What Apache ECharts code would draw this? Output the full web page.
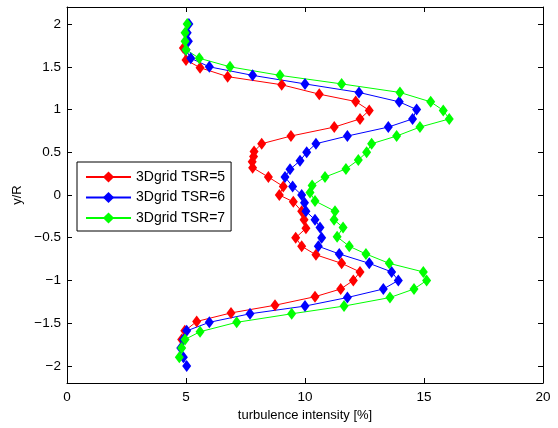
<!DOCTYPE html>
<html>
<head>
<meta charset="utf-8">
<script src="https://cdn.jsdelivr.net/npm/echarts@6/dist/echarts.min.js"></script>
<style>
html,body{margin:0;padding:0;background:#fff;}
#chart{width:558px;height:428px;}
</style>
</head>
<body>
<div id="chart"></div>
<script>
// ---- data ----
var seriesNames = ['3Dgrid TSR=5', '3Dgrid TSR=6', '3Dgrid TSR=7'];

var yTSR5 = [1.72, 1.58, 1.49, 1.385, 1.29, 1.18, 1.094, 0.99, 0.89, 0.795, 0.69, 0.60, 0.51, 0.45, 0.39, 0.32, 0.21, 0.10, 0.0, -0.08, -0.19, -0.29, -0.39, -0.50, -0.60, -0.70, -0.80, -0.90, -1.0, -1.10, -1.19, -1.29, -1.38, -1.48, -1.59, -1.69];
var xTSR5 = [4.89, 5.0, 5.59, 6.75, 9.02, 10.6, 12.13, 12.7, 12.31, 11.23, 9.41, 8.18, 7.86, 7.84, 7.78, 7.8, 8.46, 9.09, 8.92, 9.51, 9.86, 9.96, 10.04, 9.61, 9.86, 10.46, 11.54, 12.31, 12.03, 11.5, 10.42, 8.74, 6.89, 5.45, 4.95, 4.82];

var yTSR6 = [2.0, 1.9, 1.8, 1.7, 1.6, 1.5, 1.4, 1.3, 1.2, 1.09, 1.0, 0.89, 0.795, 0.69, 0.6, 0.5, 0.4, 0.3, 0.21, 0.1, 0.0, -0.09, -0.19, -0.29, -0.38, -0.5, -0.6, -0.69, -0.8, -0.9, -1.0, -1.1, -1.2, -1.3, -1.39, -1.49, -1.59, -1.69, -1.79, -1.9, -2.0];
var xTSR6 = [5.12, 5.05, 5.1, 5.0, 5.2, 5.98, 7.8, 10.0, 12.27, 13.96, 14.69, 14.52, 13.5, 11.78, 10.46, 10.07, 9.79, 9.37, 9.16, 9.48, 9.86, 9.98, 10.04, 10.42, 10.63, 10.7, 10.56, 11.44, 12.7, 13.64, 13.92, 13.29, 11.78, 10.0, 7.69, 5.98, 5.03, 4.89, 4.78, 4.89, 5.03];

var yTSR7 = [2.0, 1.9, 1.8, 1.7, 1.6, 1.5, 1.4, 1.3, 1.2, 1.09, 0.99, 0.89, 0.795, 0.69, 0.6, 0.5, 0.41, 0.305, 0.21, 0.11, 0.03, -0.07, -0.19, -0.29, -0.38, -0.49, -0.6, -0.69, -0.8, -0.9, -1.0, -1.1, -1.2, -1.3, -1.39, -1.49, -1.6, -1.69, -1.79, -1.9];
var xTSR7 = [5.05, 4.96, 4.96, 5.0, 5.56, 6.85, 8.95, 11.54, 13.99, 15.28, 15.81, 16.06, 14.83, 13.85, 12.8, 12.59, 12.24, 11.72, 10.84, 10.3, 10.21, 10.42, 11.26, 11.22, 11.6, 11.35, 11.86, 12.56, 13.54, 14.97, 15.11, 14.58, 13.57, 11.64, 9.44, 7.13, 5.59, 4.96, 4.82, 4.72];

var xTicks = [0, 5, 10, 15, 20];
var yTicks = [-2, -1.5, -1, -0.5, 0, 0.5, 1, 1.5, 2];
var colors = ['#ff0000', '#0000ff', '#00ff00'];

// ---- build ----
function zip(xs, ys) { return xs.map(function (x, i) { return [x, ys[i]]; }); }
var xsAll = [xTSR5, xTSR6, xTSR7];
var ysAll = [yTSR5, yTSR6, yTSR7];

var font = '"Liberation Sans", Arial, Helvetica, sans-serif';
function fmt(v) { return String(v).replace('-', '\u2212'); }

var series = seriesNames.map(function (name, i) {
  return {
    name: name,
    type: 'line',
    data: zip(xsAll[i], ysAll[i]),
    xAxisIndex: 0,
    yAxisIndex: 0,
    symbol: 'diamond',
    symbolSize: [9, 12],
    showAllSymbol: true,
    lineStyle: { color: colors[i], width: 1 },
    itemStyle: { color: colors[i], borderWidth: 0 },
    emphasis: { disabled: true },
    animation: false
  };
});

function axisLine() { return { show: true, onZero: false, lineStyle: { color: '#000', width: 1 } }; }
function axisTick(vals) {
  var t = { show: true, inside: true, length: 5, lineStyle: { color: '#000' } };
  if (vals) t.customValues = vals;
  return t;
}

var chart = echarts.init(document.getElementById('chart'), null, { renderer: 'canvas' });
chart.setOption({
  animation: false,
  backgroundColor: '#fff',
  grid: { left: 67, right: 15, top: 7, bottom: 45, containLabel: false },
  legend: {
    data: seriesNames,
    orient: 'vertical',
    left: 77,
    top: 162,
    padding: [8, 6, 6, 8],
    itemWidth: 45,
    itemHeight: 14,
    itemGap: 6.5,
    backgroundColor: '#fff',
    borderColor: '#000',
    borderWidth: 1,
    borderRadius: 0,
    textStyle: { fontFamily: font, fontSize: 14, color: '#000' }
  },
  xAxis: [
    {
      type: 'value', position: 'bottom', min: 0, max: 20, interval: 5,
      axisLine: axisLine(), axisTick: axisTick(), splitLine: { show: false },
      name: 'turbulence intensity [%]', nameLocation: 'middle', nameGap: 21,
      nameTextStyle: { fontFamily: font, fontSize: 13, color: '#000' },
      axisLabel: { fontFamily: font, fontSize: 13.5, color: '#000', margin: 7, formatter: fmt }
    },
    {
      type: 'value', position: 'top', min: 0, max: 20, interval: 5,
      axisLine: axisLine(), axisTick: axisTick(), splitLine: { show: false },
      axisLabel: { show: false }
    }
  ],
  yAxis: [
    {
      type: 'value', position: 'left', min: -2.2, max: 2.2,
      axisLine: axisLine(), axisTick: axisTick(yTicks), splitLine: { show: false },
      name: 'y/R', nameLocation: 'middle', nameGap: 43, nameRotate: 90,
      nameTextStyle: { fontFamily: font, fontSize: 13, color: '#000' },
      axisLabel: { fontFamily: font, fontSize: 13.5, color: '#000', margin: 6,
        customValues: yTicks, formatter: fmt }
    },
    {
      type: 'value', position: 'right', min: -2.2, max: 2.2,
      axisLine: axisLine(), axisTick: axisTick(yTicks), splitLine: { show: false },
      axisLabel: { show: false }
    }
  ],
  series: series
});
</script>
</body>
</html>
